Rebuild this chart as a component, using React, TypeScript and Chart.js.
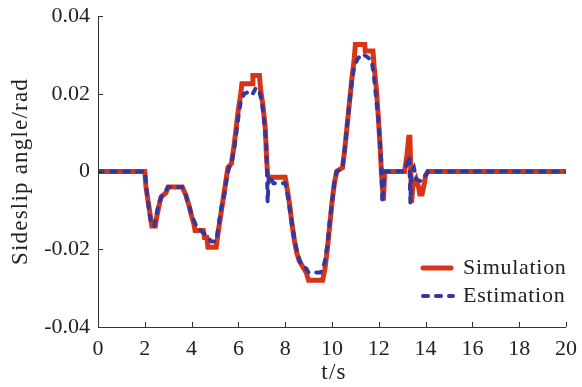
import React, { useEffect, useRef } from "react";
import { Chart, registerables } from "chart.js";

Chart.register(...registerables);

const simT = [0, 2.0, 2.05, 2.15, 2.25, 2.3, 2.45, 2.5, 2.6, 2.7, 2.8, 2.9, 3.0, 3.6, 3.75, 3.9, 4.0, 4.1, 4.15, 4.5, 4.55, 4.65, 4.7, 5.05, 5.15, 5.25, 5.35, 5.45, 5.55, 5.7, 5.8, 5.9, 6.0, 6.1, 6.15, 6.6, 6.62, 6.9, 6.95, 7.05, 7.15, 7.2, 7.25, 7.35, 8.0, 8.1, 8.2, 8.3, 8.4, 8.5, 8.6, 8.7, 8.8, 8.9, 9.0, 9.6, 9.7, 9.8, 9.9, 10.0, 10.1, 10.2, 10.45, 10.55, 10.65, 10.75, 10.85, 10.95, 11.0, 11.4, 11.42, 11.75, 11.8, 11.9, 11.98, 12.05, 12.12, 12.2, 12.25, 13.1, 13.2, 13.28, 13.33, 13.4, 13.45, 13.6, 13.7, 13.75, 13.85, 13.95, 14.0, 14.1, 20];
const simV = [0, 0, -0.004, -0.008, -0.012, -0.014, -0.014, -0.012, -0.009, -0.0065, -0.006, -0.0055, -0.004, -0.004, -0.006, -0.009, -0.0115, -0.0135, -0.0152, -0.0152, -0.017, -0.017, -0.0195, -0.0195, -0.015, -0.011, -0.007, -0.003, 0.001, 0.002, 0.006, 0.011, 0.016, 0.02, 0.0226, 0.0226, 0.0247, 0.0247, 0.021, 0.017, 0.011, 0.004, -0.001, -0.0015, -0.0015, -0.005, -0.009, -0.014, -0.018, -0.021, -0.023, -0.024, -0.025, -0.026, -0.028, -0.028, -0.025, -0.02, -0.014, -0.008, -0.003, 0, 0.001, 0.006, 0.012, 0.018, 0.024, 0.029, 0.0327, 0.0327, 0.031, 0.031, 0.027, 0.021, 0.014, 0.007, -0.001, -0.0075, 0, 0, 0.004, 0.0088, 0.0088, -0.008, -0.004, -0.002, -0.004, -0.0058, -0.0058, -0.003, -0.001, 0, 0];

const estT = [0, 2.0, 2.1, 2.2, 2.3, 2.4, 2.5, 2.6, 2.75, 2.9, 3.0, 3.6, 3.75, 3.9, 4.05, 4.2, 4.35, 4.55, 4.7, 4.85, 5.05, 5.15, 5.25, 5.4, 5.5, 5.6, 5.7, 5.85, 6.0, 6.1, 6.25, 6.45, 6.6, 6.75, 6.9, 7.0, 7.1, 7.2, 7.25, 7.3, 7.5, 8.0, 8.1, 8.2, 8.3, 8.4, 8.5, 8.6, 8.7, 8.9, 9.0, 9.5, 9.6, 9.7, 9.8, 9.9, 10.0, 10.1, 10.2, 10.45, 10.55, 10.65, 10.75, 10.85, 10.95, 11.1, 11.3, 11.5, 11.7, 11.8, 11.9, 12.0, 12.1, 12.15, 12.25, 13.1, 13.2, 13.3, 13.35, 13.4, 13.5, 13.6, 13.7, 13.8, 13.9, 14.0, 14.1, 20];
const estV = [0, 0, -0.006, -0.011, -0.014, -0.014, -0.011, -0.008, -0.006, -0.005, -0.004, -0.004, -0.006, -0.009, -0.012, -0.014, -0.015, -0.016, -0.017, -0.018, -0.018, -0.014, -0.01, -0.006, -0.002, 0.001, 0.002, 0.007, 0.014, 0.018, 0.02, 0.0205, 0.0198, 0.0216, 0.0205, 0.018, 0.013, 0.006, -0.008, -0.001, -0.003, -0.003, -0.006, -0.01, -0.014, -0.0175, -0.0205, -0.0225, -0.024, -0.025, -0.026, -0.026, -0.025, -0.023, -0.019, -0.013, -0.008, -0.003, 0, 0.001, 0.006, 0.012, 0.018, 0.023, 0.027, 0.029, 0.0303, 0.0295, 0.0285, 0.024, 0.018, 0.012, 0.003, -0.008, 0, 0, 0.002, 0.004, -0.008, 0, 0.001, -0.002, -0.0023, -0.0025, -0.0015, -0.001, 0, 0];

const xTicks = [0, 2, 4, 6, 8, 10, 12, 14, 16, 18, 20];
const yTicks = [-0.04, -0.02, 0, 0.02, 0.04];
const seriesNames = ["Simulation", "Estimation"];

const RED = "rgb(217,52,22)";
const BLUE = "rgb(52,56,158)";
const FONT = "'Liberation Serif', serif";

const zeroPad = (s: any) => {
  s.paddingTop = 0;
  s.paddingBottom = 0;
  s.paddingLeft = 0;
  s.paddingRight = 0;
};

const decorPlugin = {
  id: "decor",
  afterDraw(chart: any) {
    const { ctx, chartArea, scales } = chart;
    const xs = scales.x;
    const ys = scales.y;
    ctx.save();
    ctx.strokeStyle = "#333";
    ctx.lineWidth = 1;
    ctx.beginPath();
    ctx.moveTo(chartArea.left + 0.5, chartArea.top);
    ctx.lineTo(chartArea.left + 0.5, chartArea.bottom + 0.5);
    ctx.lineTo(chartArea.right, chartArea.bottom + 0.5);
    for (const t of xTicks) {
      const px = Math.round(xs.getPixelForValue(t)) + 0.5;
      ctx.moveTo(px, chartArea.bottom);
      ctx.lineTo(px, chartArea.bottom - 5);
    }
    for (const v of yTicks) {
      const py = Math.round(ys.getPixelForValue(v)) + 0.5;
      ctx.moveTo(chartArea.left, py);
      ctx.lineTo(chartArea.left + 5, py);
    }
    ctx.stroke();

    // legend
    const lx0 = 421, lx1 = 453;
    const rows = [268, 296];
    ctx.font = "22px " + FONT;
    (ctx as any).letterSpacing = "0.7px";
    ctx.textBaseline = "middle";
    ctx.fillStyle = "#222";
    ctx.lineCap = "round";
    ctx.strokeStyle = RED;
    ctx.lineWidth = 5;
    ctx.setLineDash([]);
    ctx.beginPath();
    ctx.moveTo(lx0 + 2, rows[0]);
    ctx.lineTo(lx1 - 2, rows[0]);
    ctx.stroke();
    ctx.strokeStyle = BLUE;
    ctx.lineWidth = 4;
    ctx.setLineDash([5, 8]);
    ctx.beginPath();
    ctx.moveTo(lx0 + 2, rows[1]);
    ctx.lineTo(lx1, rows[1]);
    ctx.stroke();
    ctx.setLineDash([]);
    ctx.fillText(seriesNames[0], 463, rows[0]);
    ctx.fillText(seriesNames[1], 463, rows[1]);

    // axis titles
    ctx.font = "23px " + FONT;
    (ctx as any).letterSpacing = "1.2px";
    ctx.textAlign = "center";
    ctx.fillText("t/s", (chartArea.left + chartArea.right) / 2 + 2, 373);
    ctx.translate(21, (chartArea.top + chartArea.bottom) / 2);
    ctx.rotate(-Math.PI / 2);
    ctx.fillText("Sideslip angle/rad", 0, 0);
    ctx.restore();
  },
};

export default function App() {
  const ref = useRef<HTMLCanvasElement | null>(null);
  useEffect(() => {
    document.body.style.margin = "0";
    const ctx = ref.current!.getContext("2d")!;
    const chart = new Chart(ctx, {
      type: "line",
      data: {
        datasets: [
          {
            label: seriesNames[0],
            data: simT.map((t, i) => ({ x: t, y: simV[i] })),
            borderColor: RED,
            borderWidth: 5,
            pointRadius: 0,
            tension: 0,
            order: 2,
          },
          {
            label: seriesNames[1],
            data: estT.map((t, i) => ({ x: t, y: estV[i] })),
            borderColor: BLUE,
            borderWidth: 4,
            borderDash: [5, 8],
            borderCapStyle: "round",
            pointRadius: 0,
            tension: 0,
            order: 1,
          },
        ],
      },
      options: {
        animation: false,
        responsive: false,
        maintainAspectRatio: false,
        layout: { padding: { top: 16, right: 16, left: 0, bottom: 0 } },
        plugins: { legend: { display: false }, tooltip: { enabled: false } },
        scales: {
          x: {
            type: "linear",
            min: 0,
            max: 20,
            afterBuildTicks: (s: any) => {
              s.ticks = xTicks.map((v) => ({ value: v }));
            },
            afterFit: (s: any) => {
              s.height = 60;
              zeroPad(s);
            },
            grid: { display: false, drawTicks: false },
            border: { display: false },
            ticks: {
              padding: 9,
              color: "#222",
              font: { family: FONT, size: 22 },
              maxRotation: 0,
              callback: (v: any) => String(v),
            },
          },
          y: {
            type: "linear",
            min: -0.04,
            max: 0.04,
            afterBuildTicks: (s: any) => {
              s.ticks = yTicks.map((v) => ({ value: v }));
            },
            afterFit: (s: any) => {
              s.width = 98;
              zeroPad(s);
            },
            grid: { display: false, drawTicks: false },
            border: { display: false },
            ticks: {
              padding: 8,
              color: "#222",
              font: { family: FONT, size: 22 },
              callback: (v: any) => (Math.abs(v) < 1e-9 ? "0" : Number(v).toFixed(2)),
            },
          },
        },
      },
      plugins: [decorPlugin],
    });
    return () => chart.destroy();
  }, []);
  return (
    <div style={{ position: "fixed", left: 0, top: 0, width: 582, height: 387, background: "#fff" }}>
      <canvas ref={ref} width={582} height={387} style={{ width: 582, height: 387 }} />
    </div>
  );
}
